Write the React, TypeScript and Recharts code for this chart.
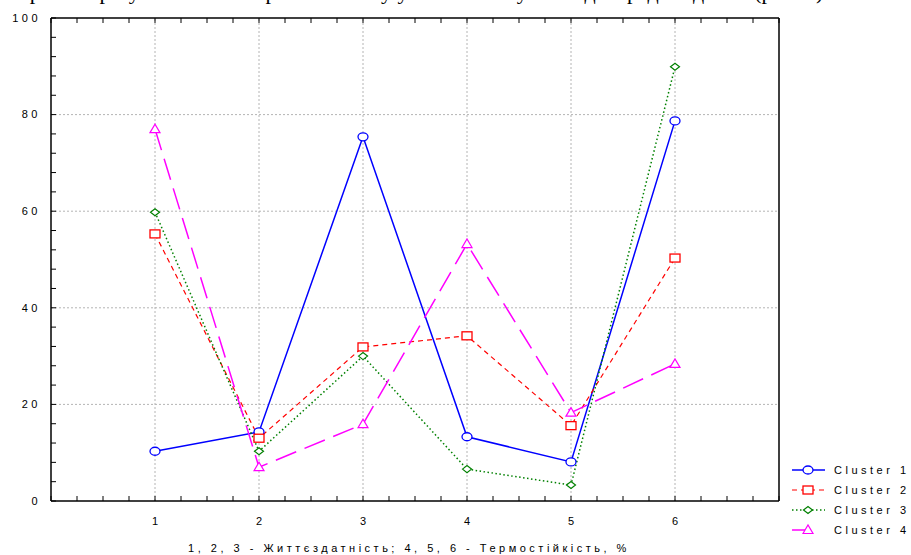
import React from "react";
import { LineChart, Line, XAxis, YAxis, ReferenceLine } from "recharts";

// values, one array per cluster
const categories = [1, 2, 3, 4, 5, 6];
const cluster1 = [10.3, 14.3, 75.4, 13.3, 8.1, 78.7];
const cluster2 = [55.3, 13.0, 31.9, 34.2, 15.6, 50.3];
const cluster3 = [59.8, 10.3, 30.0, 6.6, 3.3, 89.9];
const cluster4 = [77.0, 7.0, 15.9, 53.2, 18.3, 28.4];
const seriesNames = ["Cluster 1", "Cluster 2", "Cluster 3", "Cluster 4"];

// axis ticks (minor ticks every 0.25 on x, every 4 on y)
const xTicks = [
  0, 0.25, 0.5, 0.75, 1, 1.25, 1.5, 1.75, 2, 2.25, 2.5, 2.75, 3, 3.25, 3.5, 3.75,
  4, 4.25, 4.5, 4.75, 5, 5.25, 5.5, 5.75, 6, 6.25, 6.5, 6.75, 7,
];
const yTicks = [
  0, 4, 8, 12, 16, 20, 24, 28, 32, 36, 40, 44, 48, 52, 56, 60, 64, 68, 72, 76, 80,
  84, 88, 92, 96, 100,
];
const yLabels = [0, 20, 40, 60, 80, 100];
const xGrid = [1, 2, 3, 4, 5, 6];
const yGrid = [20, 40, 60, 80];

const xTitle = "1, 2, 3 - Життєздатність; 4, 5, 6 - Термостійкість, %";
// the line of page text above the chart, cut off at the top edge in the original
const topText = "Отримані результати кластерного аналізу узагальнено у вигляді середніх даних (рис. 4)";

const data = categories.map((c, i) => ({
  x: c,
  c1: cluster1[i],
  c2: cluster2[i],
  c3: cluster3[i],
  c4: cluster4[i],
}));

const FONT = "'Liberation Sans', Arial, sans-serif";

const styles = [
  { key: "c1", color: "#0000ff", dash: undefined, width: 1.5, shape: "circle" },
  { key: "c2", color: "#ff0000", dash: "5 4", width: 1.2, shape: "square" },
  { key: "c3", color: "#008000", dash: "1.5 2.5", width: 1.5, shape: "diamond" },
  { key: "c4", color: "#ff00ff", dash: "22 9", width: 1.5, shape: "triangle" },
];

function Marker({ shape, color, cx, cy }: any) {
  if (cx == null || cy == null) return null;
  if (shape === "circle")
    return <ellipse cx={cx} cy={cy} rx={5} ry={4} fill="#fff" stroke={color} strokeWidth={1.3} />;
  if (shape === "square")
    return <rect x={cx - 5} y={cy - 4} width={10} height={8} fill="#fff" stroke={color} strokeWidth={1.3} />;
  if (shape === "diamond")
    return (
      <polygon
        points={`${cx - 4.5},${cy} ${cx},${cy - 3.5} ${cx + 4.5},${cy} ${cx},${cy + 3.5}`}
        fill="#fff"
        stroke={color}
        strokeWidth={1.2}
      />
    );
  return (
    <polygon
      points={`${cx - 5},${cy + 3.5} ${cx},${cy - 5} ${cx + 5},${cy + 3.5}`}
      fill="#fff"
      stroke={color}
      strokeWidth={1.2}
    />
  );
}

const textStyle = { fontFamily: FONT, fontSize: 11, letterSpacing: 3.5, fill: "#000" };

function BottomTick({ x, y, payload }: any) {
  const v = payload.value;
  return (
    <g>
      <line x1={x} x2={x} y1={y} y2={y - 5} stroke="#000" strokeWidth={1} />
      {categories.includes(v) && (
        <text x={x + 1.75} y={y + 24} textAnchor="middle" {...textStyle}>
          {v}
        </text>
      )}
    </g>
  );
}

function TopTick({ x, y }: any) {
  return <line x1={x} x2={x} y1={y} y2={y + 5} stroke="#000" strokeWidth={1} />;
}

function LeftTick({ x, y, payload }: any) {
  const v = payload.value;
  return (
    <g>
      <line x1={x} x2={x + 5} y1={y} y2={y} stroke="#000" strokeWidth={1} />
      {yLabels.includes(v) && (
        <text x={x - 10} y={y} dy="0.35em" textAnchor="end" {...textStyle}>
          {v}
        </text>
      )}
    </g>
  );
}

function RightTick({ x, y }: any) {
  return <line x1={x} x2={x - 5} y1={y} y2={y} stroke="#000" strokeWidth={1} />;
}

function XTitle({ viewBox }: any) {
  if (!viewBox) return null;
  return (
    <text x={viewBox.x + viewBox.width / 2 - 6} y={viewBox.y + 51} textAnchor="middle" {...textStyle}>
      {xTitle}
    </text>
  );
}

function LegendBox() {
  return (
    <svg
      width={131}
      height={85}
      style={{ position: "absolute", left: 780, top: 458 }}
    >
      {styles.map((s, i) => {
        const cy = 12 + i * 20;
        return (
          <g key={s.key}>
            <line
              x1={12}
              x2={45}
              y1={cy}
              y2={cy}
              stroke={s.color}
              strokeWidth={s.width}
              strokeDasharray={s.key === "c4" ? "14 20 1.5 10" : s.dash}
            />
            <Marker shape={s.shape} color={s.color} cx={28} cy={cy} />
            <text x={54} y={cy} dy="0.35em" {...textStyle}>
              {seriesNames[i]}
            </text>
          </g>
        );
      })}
    </svg>
  );
}

export default function App() {
  return (
    <div style={{ position: "absolute", left: 0, top: 0, width: 911, height: 555, background: "#fff", overflow: "hidden" }}>
      <div
        style={{
          position: "absolute",
          left: 4,
          top: -20,
          fontFamily: "'Liberation Serif', 'Times New Roman', serif",
          fontSize: 22,
          lineHeight: "24px",
          whiteSpace: "nowrap",
          color: "#000",
        }}
      >
        {topText}
      </div>
      <LineChart
        width={911}
        height={555}
        data={data}
        margin={{ top: 16, right: 122, left: 0, bottom: 0 }}
      >
        {xGrid.map((g) => (
          <ReferenceLine key={"gx" + g} x={g} stroke="#b4b4b4" strokeDasharray="2 2" strokeWidth={1} />
        ))}
        {yGrid.map((g) => (
          <ReferenceLine key={"gy" + g} y={g} stroke="#b4b4b4" strokeDasharray="2 2" strokeWidth={1} />
        ))}
        <XAxis
          dataKey="x"
          type="number"
          domain={[0, 7]}
          ticks={xTicks}
          interval={0}
          height={54}
          tickSize={0}
          tickMargin={0}
          tickLine={false}
          axisLine={{ stroke: "#000", strokeWidth: 1.5 }}
          tick={<BottomTick />}
          label={<XTitle />}
        />
        <XAxis
          xAxisId="top"
          orientation="top"
          dataKey="x"
          type="number"
          domain={[0, 7]}
          ticks={xTicks}
          interval={0}
          height={2}
          tickSize={0}
          tickMargin={0}
          tickLine={false}
          axisLine={{ stroke: "#000", strokeWidth: 1.5 }}
          tick={<TopTick />}
        />
        <YAxis
          type="number"
          domain={[0, 100]}
          ticks={yTicks}
          interval={0}
          width={51}
          tickSize={0}
          tickMargin={0}
          tickLine={false}
          axisLine={{ stroke: "#000", strokeWidth: 1.5 }}
          tick={<LeftTick />}
        />
        <YAxis
          yAxisId="right"
          orientation="right"
          type="number"
          domain={[0, 100]}
          ticks={yTicks}
          interval={0}
          width={10}
          tickSize={0}
          tickMargin={0}
          tickLine={false}
          axisLine={{ stroke: "#000", strokeWidth: 1.5 }}
          tick={<RightTick />}
        />
        {styles.map((s) => (
          <Line
            key={s.key}
            dataKey={s.key}
            type="linear"
            stroke={s.color}
            strokeWidth={s.width}
            strokeDasharray={s.dash}
            isAnimationActive={false}
            dot={(p: any) => <Marker key={s.key + p.index} shape={s.shape} color={s.color} cx={p.cx} cy={p.cy} />}
            activeDot={false}
          />
        ))}
      </LineChart>
      <LegendBox />
    </div>
  );
}
